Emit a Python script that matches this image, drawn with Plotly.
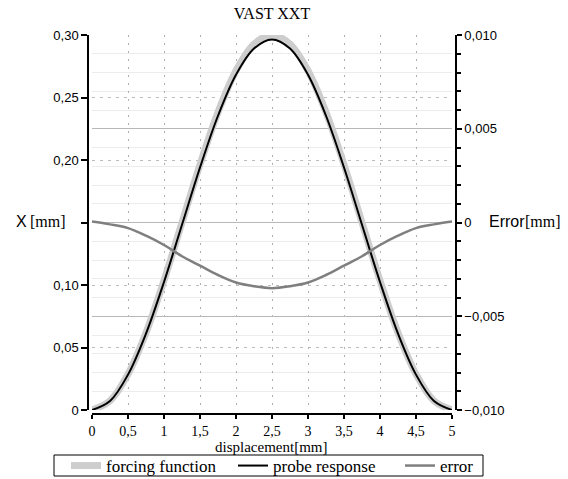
import plotly.graph_objects as go

# ---- data ----
displacement = [0, 0.25, 0.5, 0.75, 1.0, 1.25, 1.5, 1.75, 2.0, 2.25, 2.5,
                2.75, 3.0, 3.25, 3.5, 3.75, 4.0, 4.25, 4.5, 4.75, 5.0]
forcing = [0, 0.0073, 0.0287, 0.0618, 0.1036, 0.1500, 0.1964, 0.2382, 0.2714, 0.2927, 0.3000,
           0.2927, 0.2714, 0.2382, 0.1964, 0.1500, 0.1036, 0.0618, 0.0287, 0.0073, 0]
probe = [0, 0.0072, 0.0283, 0.0611, 0.1024, 0.1482, 0.1940, 0.2354, 0.2682, 0.2892, 0.2965,
         0.2892, 0.2682, 0.2354, 0.1940, 0.1482, 0.1024, 0.0611, 0.0283, 0.0072, 0]
error = [0.00005, -0.0001, -0.0003, -0.0007, -0.0012, -0.0018, -0.0023, -0.0028, -0.0032, -0.0034, -0.0035,
         -0.0034, -0.0032, -0.0028, -0.0023, -0.0018, -0.0012, -0.0007, -0.0003, -0.0001, 0.00005]

x_tickvals = [0, 0.5, 1, 1.5, 2, 2.5, 3, 3.5, 4, 4.5, 5]
x_ticktext = ["0", "0,5", "1", "1,5", "2", "2,5", "3", "3,5", "4", "4,5", "5"]
y_tickvals = [0, 0.05, 0.10, 0.15, 0.20, 0.25, 0.30]
y_ticktext = ["0", "0,05", "0,10", "", "0,20", "0,25", "0,30"]
y2_tickvals = [-0.010, -0.005, 0, 0.005, 0.010]
y2_ticktext = ["−0,010", "−0,005", "0", "0,005", "0,010"]

SERIF = "Liberation Serif"
SANS = "Liberation Sans"

fig = go.Figure()
fig.add_trace(go.Scatter(x=displacement, y=forcing, name="forcing function", mode="lines",
                         line=dict(color="#cdcdcd", width=7, shape="spline")))
fig.add_trace(go.Scatter(x=displacement, y=probe, name="probe response", mode="lines",
                         line=dict(color="#000000", width=2, shape="spline")))
fig.add_trace(go.Scatter(x=displacement, y=error, name="error", mode="lines", yaxis="y2",
                         line=dict(color="#7f7f7f", width=2.5, shape="spline")))

W, H = 568, 479
L, R, T, B = 0, 0, 35, 65
pw, ph = W - L - R, H - T - B


def px_x(p):
    return (p - L) / pw


def px_y(p):
    return (H - B - p) / ph


xd0, xd1 = px_x(92), px_x(452)
yd0 = px_y(410)


def label(text, x, y, family, size, xanchor="left"):
    return dict(text=text, x=px_x(x), y=px_y(y), xref="paper", yref="paper",
                showarrow=False, xanchor=xanchor, yanchor="middle",
                font=dict(family=family, size=size, color="black"))


fig.update_layout(
    width=W, height=H,
    margin=dict(l=L, r=R, t=T, b=B, pad=0, autoexpand=False),
    paper_bgcolor="white", plot_bgcolor="white",
    showlegend=True,
    title=dict(text="VAST XXT", x=272 / W, xanchor="center", y=1 - 13 / H, yanchor="middle",
               font=dict(family=SERIF, size=16, color="black")),
    xaxis=dict(domain=[xd0, xd1], range=[0, 5], anchor="free", position=0,
               tickvals=x_tickvals, ticktext=x_ticktext,
               tickfont=dict(family=SERIF, size=14, color="black"),
               ticks="outside", ticklen=4, tickcolor="black", tickwidth=1.5,
               showline=True, linecolor="black", linewidth=1.5,
               showgrid=True, gridcolor="#b0b0b0", griddash="2px,6px", gridwidth=1,
               zeroline=False, automargin=False),
    yaxis=dict(domain=[yd0, 1], range=[0, 0.30], anchor="free", position=px_x(88),
               tickvals=y_tickvals, ticktext=y_ticktext,
               tickfont=dict(family=SANS, size=13, color="black"),
               ticks="outside", ticklen=6, tickcolor="black", tickwidth=1.5,
               showline=True, linecolor="black", linewidth=1.5,
               showgrid=True, gridcolor="#bcbcbc", griddash="3px,5px", gridwidth=1,
               zeroline=False, automargin=False),
    yaxis2=dict(domain=[yd0, 1], range=[-0.010, 0.010], overlaying="y", side="right",
                anchor="free", position=px_x(456), automargin=False,
                tickvals=y2_tickvals, ticktext=y2_ticktext,
                tickfont=dict(family=SANS, size=13, color="black"),
                ticks="outside", ticklen=5, tickcolor="black", tickwidth=1.5,
                showline=True, linecolor="black", linewidth=1.5,
                showgrid=True, gridcolor="#b8b8b8", gridwidth=1.2,
                zeroline=False,
                minor=dict(dtick=0.001, tick0=0, ticks="outside", ticklen=4, tickcolor="black",
                           showgrid=True, gridcolor="#ececec", gridwidth=1)),
    legend=dict(orientation="h", x=px_x(66), xanchor="left",
                y=px_y(466), yanchor="middle",
                bordercolor="rgba(0,0,0,0)", borderwidth=0, bgcolor="rgba(0,0,0,0)",
                font=dict(family=SERIF, size=17, color="black"),
                entrywidth=122, entrywidthmode="pixels", tracegroupgap=0),
    shapes=[
        dict(type="rect", xref="paper", yref="paper", x0=px_x(54), x1=px_x(483),
             y0=px_y(476), y1=px_y(455), line=dict(color="black", width=1), layer="below"),
    ],
    annotations=[
        label("displacement[mm]", 271, 447, SERIF, 15, xanchor="center"),
        label("X", 14, 221, SANS, 16),
        label("[mm]", 28, 221, SERIF, 16),
        label("Error", 487, 221, SANS, 16),
        label("[mm]", 523, 221, SERIF, 16),
    ],
)

fig.write_html("out.html", config={"displayModeBar": False},
               post_script="document.body.style.margin='0';document.body.style.padding='0';")
